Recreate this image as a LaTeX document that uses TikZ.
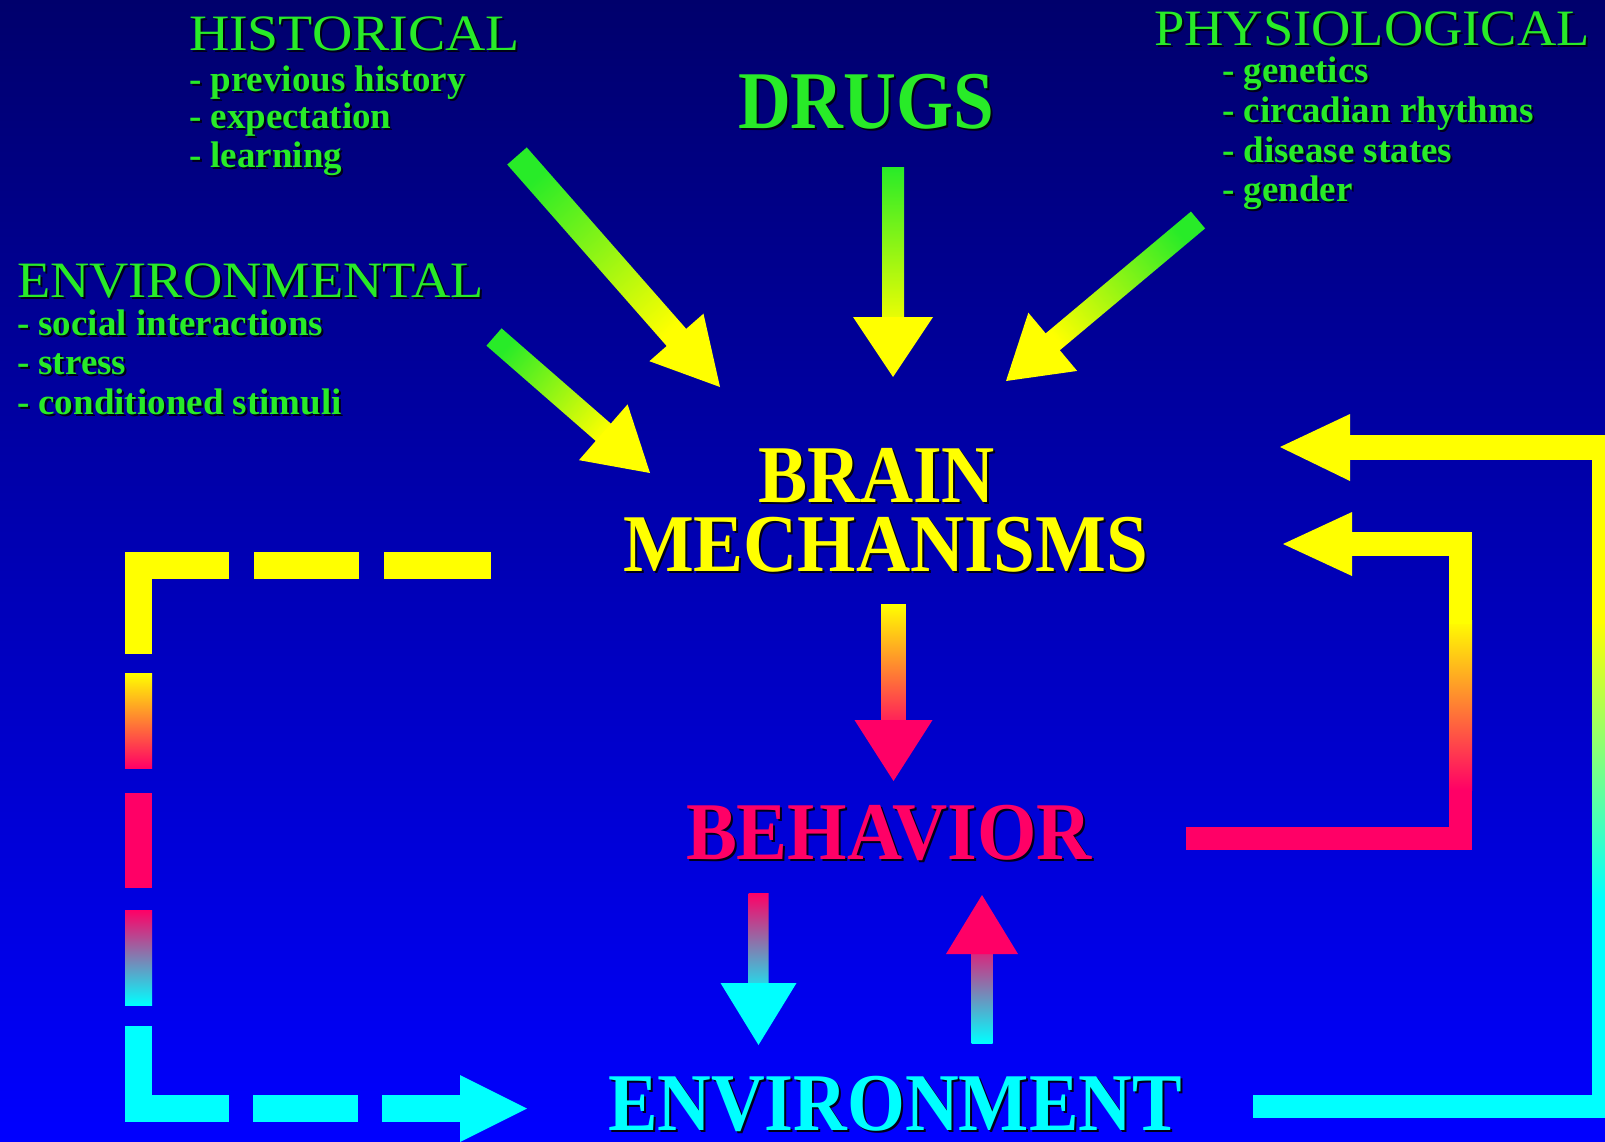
\documentclass[tikz,border=0pt]{standalone}
\usepackage{fontspec}
\setmainfont{Liberation Serif}
\usepackage{graphicx}
\usetikzlibrary{calc}
\definecolor{bgtop}{RGB}{0,0,108}
\definecolor{bgbot}{RGB}{0,0,255}
\definecolor{tgreen}{RGB}{40,235,40}
\definecolor{agreen}{RGB}{40,235,40}
\definecolor{tyellow}{RGB}{255,255,0}
\definecolor{tpink}{RGB}{255,0,102}
\definecolor{tcyan}{RGB}{0,255,255}
\definecolor{shad}{RGB}{0,0,25}
\newcommand\sh[1]{\leavevmode\rlap{\kern2pt\raisebox{-2pt}{\color{shad}#1}}#1}
\newcommand\fitw[2]{\resizebox{#1}{\height}{#2}}
% #1 start, #2 tip, #3 shaft half width, #4 head half width, #5 head length,
% #6 start colour, #7 end colour, #8 shading angle
\newcommand\fatarrow[8]{%
  \coordinate (fab) at ($(#2)!#5!(#1)$);
  \coordinate (fae) at ($(fab)!0.3!(#2)$);
  \shade[bottom color=#6, top color=#7, shading angle=#8]
    ($(#1)!#3!90:(#2)$) -- ($(fae)!#3!-90:(#1)$) -- ($(fae)!#3!90:(#1)$) -- ($(#1)!#3!-90:(#2)$) -- cycle;
  \fill[#7] ($(fab)!#4!-90:(#1)$) -- (#2) -- ($(fab)!#4!90:(#1)$) -- cycle;
}
% vertical gradient piece: clip to the bar, shade a wider box
\newcommand\gradbar[6]{% #1 x1, #2 x2, #3 y top, #4 y bottom, #5 top colour, #6 bottom colour
  \begin{scope}
    \clip (#1,#3) rectangle (#2,#4);
    \shade[top color=#5, bottom color=#6] (#1-10,#3) rectangle (#2+10,#4);
  \end{scope}
}
\begin{document}
\begin{tikzpicture}[x=1pt,y=1pt,
  txt/.style={inner sep=0pt, outer sep=0pt, anchor=base west},
  headtxt/.style={txt, font=\fontsize{51}{60}\selectfont, text=tgreen},
  itemtxt/.style={txt, font=\fontsize{37}{40}\selectfont\bfseries, text=tgreen},
  bigtxt/.style={txt, font=\fontsize{82}{96}\selectfont\bfseries},
  bar/.style={line width=#1, line cap=butt, line join=miter}]
\useasboundingbox (0,0) rectangle (1605,-1141);
\clip (0,0) rectangle (1605,-1141);
\shade[top color=bgtop, bottom color=bgbot] (0,0) rectangle (1605,-1141);

% ---------- texts ----------
\node[headtxt] (hist) at (189,-50) {\sh{\fitw{331pt}{HISTORICAL}}};
\node[itemtxt] (hist1) at (189,-91) {\sh{- previous history}};
\node[itemtxt] (hist2) at (189,-128.5) {\sh{- expectation}};
\node[itemtxt] (hist3) at (189,-167) {\sh{- learning}};

\node[headtxt] (envi) at (17,-297) {\sh{\fitw{467pt}{ENVIRONMENTAL}}};
\node[itemtxt] (envi1) at (17,-335) {\sh{- social interactions}};
\node[itemtxt] (envi2) at (17,-374.5) {\sh{- stress}};
\node[itemtxt] (envi3) at (17,-414) {\sh{- conditioned stimuli}};

\node[headtxt] (phys) at (1154,-45) {\sh{\fitw{436pt}{PHYSIOLOGICAL}}};
\node[itemtxt] (phys1) at (1222,-82.5) {\sh{- genetics}};
\node[itemtxt] (phys2) at (1222,-122) {\sh{- circadian rhythms}};
\node[itemtxt] (phys3) at (1222,-162) {\sh{- disease states}};
\node[itemtxt] (phys4) at (1222,-201) {\sh{- gender}};

\node[bigtxt, text=tgreen] (drugs) at (738,-128) {\sh{\fitw{256pt}{DRUGS}}};
\node[bigtxt, text=tyellow] (brain) at (623,-571)
  {\rlap{\kern135pt\raisebox{69pt}{\sh{\fitw{237pt}{BRAIN}}}}\sh{\fitw{525pt}{MECHANISMS}}};
\node[bigtxt, text=tpink] (behav) at (686,-859) {\sh{\fitw{406pt}{BEHAVIOR}}};
\node[bigtxt, text=tcyan] (environ) at (608,-1130) {\sh{\fitw{574pt}{ENVIRONMENT}}};

% ---------- input arrows ----------
\coordinate (hA) at (517,-156);   \coordinate (hB) at (720,-387);
\coordinate (eA) at (494,-337);   \coordinate (eB) at (650,-473);
\coordinate (dA) at (893,-167);   \coordinate (dB) at (893,-377);
\coordinate (pA) at (1198,-220);  \coordinate (pB) at (1006,-381);
\fatarrow{hA}{hB}{13pt}{36pt}{66pt}{agreen}{tyellow}{-138.7}
\fatarrow{eA}{eB}{11.5pt}{37pt}{62pt}{agreen}{tyellow}{-131.1}
\fatarrow{dA}{dB}{11pt}{40pt}{60pt}{agreen}{tyellow}{-180}
\fatarrow{pA}{pB}{11pt}{38pt}{61pt}{agreen}{tyellow}{130}

% ---------- central arrows ----------
\coordinate (bmA) at (893.5,-604);  \coordinate (bmB) at (893.5,-781);
\coordinate (beA) at (758.5,-893);  \coordinate (beB) at (758.5,-1045);
\coordinate (ebA) at (982,-1043);   \coordinate (ebB) at (982,-895);
\fatarrow{bmA}{bmB}{12.5pt}{39pt}{61pt}{tyellow}{tpink}{-180}
\fatarrow{beA}{beB}{10pt}{38pt}{62pt}{tpink}{tcyan}{-180}
\fatarrow{ebA}{ebB}{10.5pt}{36pt}{59pt}{tcyan}{tpink}{0}

% ---------- behaviour feedback to brain ----------
\coordinate (bf0) at (1186,-838);
\coordinate (bfT) at (1283,-544);
\fill[tpink] (bf0 |- 0,-827) rectangle (1472,-850);
\fill[tpink] (1449,-786) rectangle (1472,-850);
\gradbar{1449}{1472}{-620}{-790}{tyellow}{tpink}
\fill[tyellow] (1449,-532) rectangle (1472,-624);
\fill[tyellow] (1350,-532) rectangle (1472,-556);
\fill[tyellow] (1352,-512) -- (bfT) -- (1352,-576) -- cycle;

% ---------- environment feedback to brain ----------
\coordinate (ef0) at (1253,-1106);
\coordinate (efT) at (1280,-447);
\fill[tcyan] (ef0 |- 0,-1095) rectangle (1616,-1118);
\fill[tcyan] (1592,-896) rectangle (1616,-1118);
\gradbar{1592}{1616}{-620}{-900}{tyellow}{tcyan}
\fill[tyellow] (1592,-435) rectangle (1616,-624);
\fill[tyellow] (1349,-435) rectangle (1616,-460);
\fill[tyellow] (1350,-414) -- (efT) -- (1350,-481) -- cycle;

% ---------- dashed path brain -> environment ----------
\coordinate (dsh0) at (491,-565.5);
\coordinate (dshT) at (527,-1108.5);
\draw[bar=27pt, tyellow] (dsh0) -- (384,-565.5);
\draw[bar=27pt, tyellow] (359,-565.5) -- (254,-565.5);
\draw[bar=27pt, tyellow] (229,-565.5) -- (138.5,-565.5) -- (138.5,-654);
\gradbar{125}{152}{-673}{-768}{tyellow}{tpink}
\fill[tpink] (125,-793) rectangle (152,-888);
\gradbar{125}{152}{-910}{-1005}{tpink}{tcyan}
\draw[bar=27pt, tcyan] (138.5,-1026) -- (138.5,-1108.5) -- (229,-1108.5);
\draw[bar=27pt, tcyan] (253,-1108.5) -- (358,-1108.5);
\draw[bar=27pt, tcyan] (382,-1108.5) -- (462,-1108.5);
\fill[tcyan] (460,-1075) -- (dshT) -- (460,-1142) -- cycle;
\end{tikzpicture}
\end{document}
